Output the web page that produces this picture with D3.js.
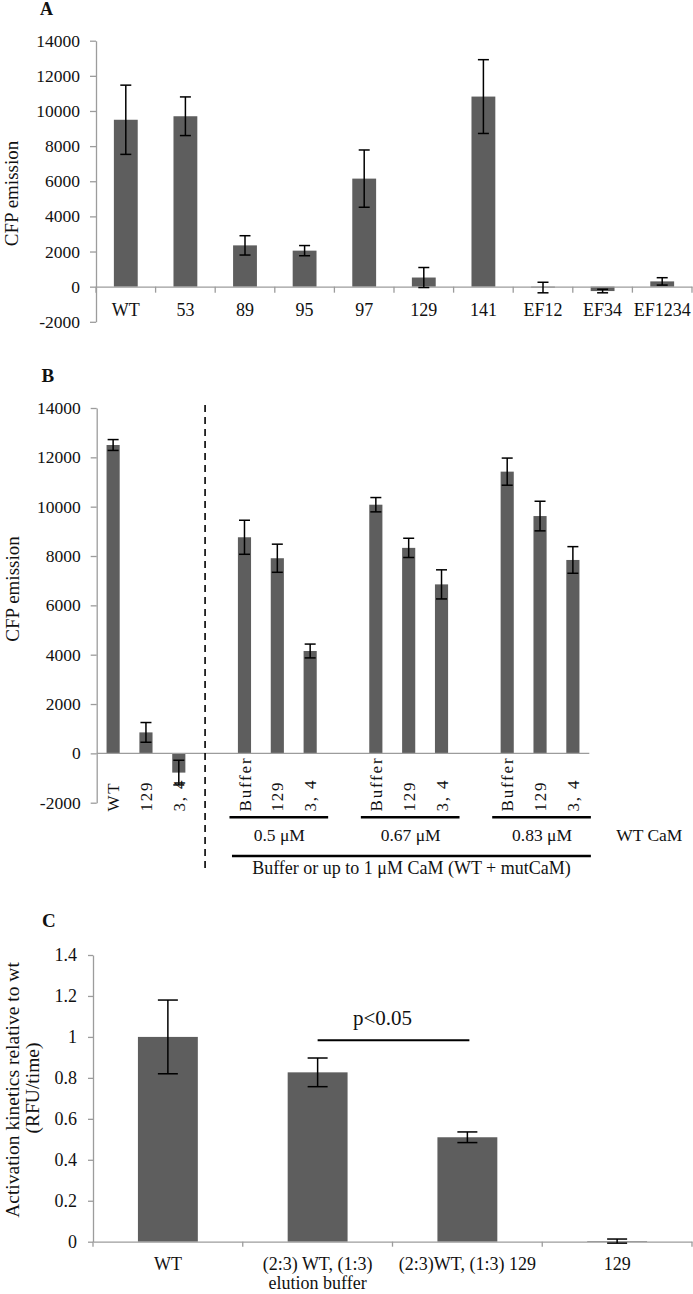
<!DOCTYPE html>
<html><head><meta charset="utf-8">
<script src="https://cdn.jsdelivr.net/npm/d3@7"></script>
<style>
html,body{margin:0;padding:0;background:#fff;}
svg text{font-family:"Liberation Serif","Times New Roman",serif;fill:#111;}
</style></head>
<body>
<svg id="chart" width="693" height="1294"></svg>
<script>
// ---------- Data ----------
// Panel A
const aCats = ["WT","53","89","95","97","129","141","EF12","EF34","EF1234"];
const aVals = [9500, 9700, 2350, 2050, 6150, 520, 10820, -50, -250, 300];
const aErr  = [1970, 1100, 550, 290, 1630, 570, 2100, 300, 100, 210];
const aTicks = [-2000, 0, 2000, 4000, 6000, 8000, 10000, 12000, 14000];

// Panel B (null = empty slot)
const bLabels = ["WT","129","3, 4",null,"Buffer","129","3, 4",null,"Buffer","129","3, 4",null,"Buffer","129","3, 4"];
const bVals   = [12500, 850, -780, null, 8760, 7910, 4150, null, 10080, 8330, 6850, null, 11420, 9620, 7840];
const bErr    = [220, 400, 500, null, 690, 570, 280, null, 290, 390, 590, null, 550, 600, 540];
const bGroups = ["0.5 μM","0.67 μM","0.83 μM"];
const bGroupStart = [4, 8, 12];   // slot index of each group's first bar
const bTicks = [-2000, 0, 2000, 4000, 6000, 8000, 10000, 12000, 14000];

// Panel C
const cCats = ["WT","(2:3) WT, (1:3)\nelution buffer","(2:3)WT, (1:3) 129","129"];
const cVals = [1.0, 0.827, 0.51, 0.003];
const cErr  = [0.18, 0.07, 0.026, 0.01];
const cTicks = [0, 0.2, 0.4, 0.6, 0.8, 1.0, 1.2, 1.4];

// ---------- Styles ----------
const BAR = "#5e5e5e", AXIS = "#9c9c9c";
const svg = d3.select("#chart");

function styleAxis(g, fs){
  g.attr("font-family", null).attr("font-size", null);
  g.selectAll(".domain").attr("stroke", AXIS).attr("stroke-width", 1.3);
  g.selectAll(".tick line").attr("stroke", AXIS).attr("stroke-width", 1.3);
  g.selectAll("text").style("font-size", fs + "px").attr("fill", "#111");
}

function errorBars(g, data, x, y, cap, xoff){
  const eb = g.append("g").attr("stroke", "#000").attr("stroke-width", 1.5).attr("fill", "none");
  data.forEach(d => {
    const cx = x(d.k) + xoff;
    const y1 = y(d.v + d.e), y2 = y(d.v - d.e);
    eb.append("line").attr("x1", cx).attr("x2", cx).attr("y1", y1).attr("y2", y2);
    eb.append("line").attr("x1", cx - cap/2).attr("x2", cx + cap/2).attr("y1", y1).attr("y2", y1);
    eb.append("line").attr("x1", cx - cap/2).attr("x2", cx + cap/2).attr("y1", y2).attr("y2", y2);
  });
}

// ================= Panel A =================
(function(){
  const x = d3.scaleBand().domain(aCats).range([96, 692]).paddingInner(0.6).paddingOuter(0.3);
  const y = d3.scaleLinear().domain([-2000, 14000]).range([321.8, 40.7]);
  const g = svg.append("g");
  const data = aCats.map((k,i)=>({k, v:aVals[i], e:aErr[i]}));

  g.selectAll("rect").data(data).join("rect")
    .attr("x", d => x(d.k)).attr("width", x.bandwidth())
    .attr("y", d => y(Math.max(0, d.v))).attr("height", d => Math.abs(y(d.v) - y(0)))
    .attr("fill", BAR);

  const ya = g.append("g").attr("transform", `translate(${x.range()[0]},0)`)
    .call(d3.axisLeft(y).tickValues(aTicks).tickFormat(d => String(d)).tickSize(6).tickSizeOuter(0).tickPadding(10));
  styleAxis(ya, 17.5);

  const xa = g.append("g").attr("transform", `translate(0,${y(0)})`)
    .call(d3.axisBottom(x).tickSize(0).tickSizeOuter(0).tickPadding(17));
  styleAxis(xa, 18);
  // boundary ticks
  const step = x.step(), x0 = x.range()[0];
  d3.range(aCats.length + 1).forEach(i => {
    g.append("line").attr("x1", x0 + i*step).attr("x2", x0 + i*step)
      .attr("y1", y(0)).attr("y2", y(0) + 6).attr("stroke", AXIS).attr("stroke-width", 1.3);
  });

  errorBars(g, data, x, y, 11, x.bandwidth()/2);

  svg.append("text").attr("x", 40).attr("y", 15).style("font-size","18px").style("font-weight","bold").text("A");
  svg.append("text").attr("transform", "translate(17.5,193.5) rotate(-90)").attr("text-anchor","middle")
    .style("font-size","19px").text("CFP emission");
})();

// ================= Panel B =================
(function(){
  const keys = bLabels.map((l,i) => "s" + i);
  const x = d3.scaleBand().domain(keys).range([96.7, 589.3]).paddingInner(0.6).paddingOuter(0.3);
  const y = d3.scaleLinear().domain([-2000, 14000]).range([802.7, 408]);
  const g = svg.append("g");
  const data = keys.map((k,i)=>({k, v:bVals[i], e:bErr[i], l:bLabels[i]})).filter(d => d.v !== null);

  g.selectAll("rect").data(data).join("rect")
    .attr("x", d => x(d.k)).attr("width", x.bandwidth())
    .attr("y", d => y(Math.max(0, d.v))).attr("height", d => Math.abs(y(d.v) - y(0)))
    .attr("fill", BAR);

  const ya = g.append("g").attr("transform", `translate(${x.range()[0]},0)`)
    .call(d3.axisLeft(y).tickValues(bTicks).tickFormat(d => String(d)).tickSize(6).tickSizeOuter(0).tickPadding(10));
  styleAxis(ya, 17.5);

  g.append("line").attr("x1", x.range()[0]).attr("x2", x.range()[1])
    .attr("y1", y(0)).attr("y2", y(0)).attr("stroke", AXIS).attr("stroke-width", 1.3);

  errorBars(g, data, x, y, 11, x.bandwidth()/2);

  // rotated category labels
  const cx = k => x(k) + x.bandwidth()/2;
  g.selectAll("text.cat").data(data).join("text").attr("class","cat")
    .attr("transform", d => `translate(${cx(d.k)},811.5) rotate(-90)`)
    .attr("dy", "0.36em").attr("text-anchor", "start")
    .style("font-size","17px").style("letter-spacing","1.8px")
    .text(d => d.l);

  // dashed separator
  const step = x.step(), x0 = x.range()[0];
  g.append("line").attr("x1", x0 + 3.3*step).attr("x2", x0 + 3.3*step)
    .attr("y1", 405).attr("y2", 872).attr("stroke", "#000").attr("stroke-width", 1.6)
    .attr("stroke-dasharray", "7,5");

  // group underlines & labels
  bGroupStart.forEach((s, gi) => {
    const left = cx(keys[s]) - 15, right = cx(keys[s+2]) + 18;
    g.append("line").attr("x1", left).attr("x2", right).attr("y1", 817.3).attr("y2", 817.3)
      .attr("stroke", "#000").attr("stroke-width", 2.5);
    g.append("text").attr("x", cx(keys[s+1]) + 2).attr("y", 840.7).attr("text-anchor","middle")
      .style("font-size","17.5px").text(bGroups[gi]);
  });
  g.append("text").attr("x", x.range()[1] + 60).attr("y", 840.7).attr("text-anchor","middle")
    .style("font-size","17.5px").text("WT CaM");
  const L = cx(keys[bGroupStart[0]]) - 12.5, R = cx(keys[bGroupStart[2]+2]) + 18;
  g.append("line").attr("x1", L).attr("x2", R).attr("y1", 856).attr("y2", 856)
    .attr("stroke", "#000").attr("stroke-width", 2.5);
  g.append("text").attr("x", (L+R)/2).attr("y", 874).attr("text-anchor","middle")
    .style("font-size","18px").text("Buffer or up to 1 μM CaM (WT + mutCaM)");

  svg.append("text").attr("x", 41.5).attr("y", 381.7).style("font-size","19px").style("font-weight","bold").text("B");
  svg.append("text").attr("transform", "translate(18.5,589) rotate(-90)").attr("text-anchor","middle")
    .style("font-size","19px").text("CFP emission");
})();

// ================= Panel C =================
(function(){
  const x = d3.scaleBand().domain(cCats).range([93, 692]).paddingInner(0.6).paddingOuter(0.3);
  const y = d3.scaleLinear().domain([0, 1.4]).range([1241.7, 955]);
  const g = svg.append("g");
  const data = cCats.map((k,i)=>({k, v:cVals[i], e:cErr[i]}));

  g.selectAll("rect").data(data).join("rect")
    .attr("x", d => x(d.k)).attr("width", x.bandwidth())
    .attr("y", d => y(d.v)).attr("height", d => y(0) - y(d.v))
    .attr("fill", BAR);

  const ya = g.append("g").attr("transform", `translate(${x.range()[0]},0)`)
    .call(d3.axisLeft(y).tickValues(cTicks).tickFormat(d => String(+d.toFixed(1))).tickSize(5).tickSizeOuter(0).tickPadding(11));
  styleAxis(ya, 18);

  const xa = g.append("g").attr("transform", `translate(0,${y(0)})`)
    .call(d3.axisBottom(x).tickSize(0).tickSizeOuter(0).tickPadding(15.5));
  styleAxis(xa, 18);
  xa.selectAll(".tick text").each(function(d){
    const parts = d.split("\n");
    const t = d3.select(this).text(null);
    parts.forEach((p,i) => t.append("tspan").attr("x", 0).attr("dy", i === 0 ? "0.71em" : "1.04em").text(p));
  });
  const step = x.step(), x0 = x.range()[0];
  d3.range(cCats.length + 1).forEach(i => {
    g.append("line").attr("x1", x0 + i*step).attr("x2", x0 + i*step)
      .attr("y1", y(0)).attr("y2", y(0) + 5).attr("stroke", AXIS).attr("stroke-width", 1.3);
  });

  errorBars(g, data, x, y, 20, x.bandwidth()/2);

  // significance bracket
  const sx1 = x(cCats[1]) + x.bandwidth()/2, sx2 = x(cCats[2]) + x.bandwidth()/2 + 2;
  g.append("line").attr("x1", sx1).attr("x2", sx2).attr("y1", 1040.3).attr("y2", 1040.3)
    .attr("stroke", "#000").attr("stroke-width", 2);
  g.append("text").attr("x", (sx1+sx2)/2 - 11).attr("y", 1025).attr("text-anchor","middle")
    .style("font-size","21px").text("p<0.05");

  svg.append("text").attr("x", 42).attr("y", 926.5).style("font-size","19px").style("font-weight","bold").text("C");
  svg.append("text").attr("transform", "translate(18.5,1090) rotate(-90)").attr("text-anchor","middle")
    .style("font-size","19.5px").text("Activation kinetics relative to wt");
  svg.append("text").attr("transform", "translate(38.5,1088) rotate(-90)").attr("text-anchor","middle")
    .style("font-size","19.5px").text("(RFU/time)");
})();
</script>
</body></html>
